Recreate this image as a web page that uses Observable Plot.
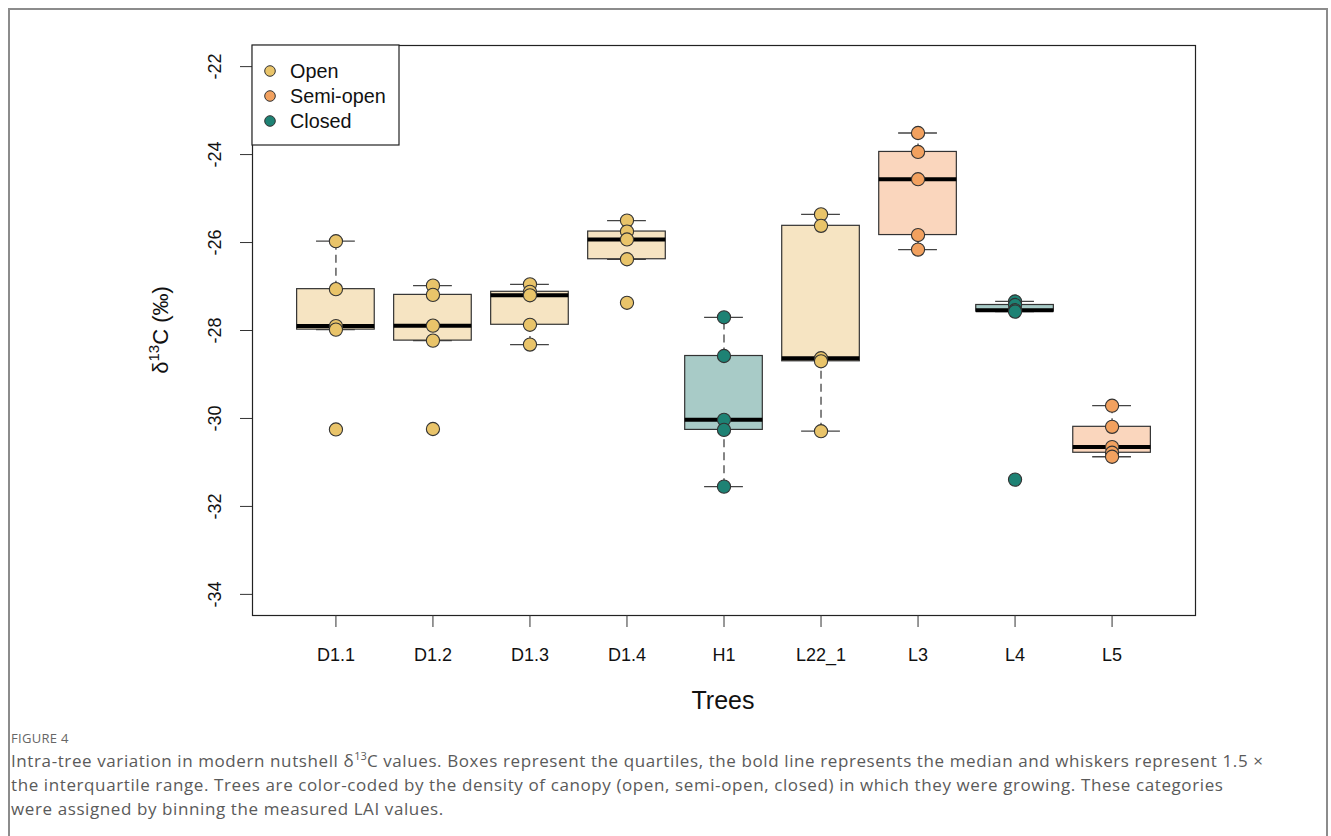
<!DOCTYPE html>
<html>
<head>
<meta charset="utf-8">
<script src="https://cdn.jsdelivr.net/npm/d3@7"></script>
<script src="https://cdn.jsdelivr.net/npm/@observablehq/plot@0.6"></script>
<style>
  html, body { margin: 0; padding: 0; background: #fff; }
  #page { position: relative; width: 1331px; height: 836px; overflow: hidden; }
  #border { position: absolute; left: 8px; top: 8px; width: 1320px; height: 900px; border: 2px solid #8c8c8c; box-sizing: border-box; }
  #chart { position: absolute; left: 0; top: 0; }
  #caption { position: absolute; left: 11px; top: 729px; width: 1310px; font-family: "Open Sans", "Noto Sans", sans-serif; color: #5a5a5a; white-space: nowrap; }
  #caption .fig { font-size: 13px; letter-spacing: 0.3px; margin-bottom: 2px; color: #666; }
  #caption .txt { font-size: 17px; line-height: 24px; font-weight: 400; letter-spacing: 0.6px; }
  sup { font-size: 11px; line-height: 0; letter-spacing: 0; }
</style>
</head>
<body>
<div id="page">
  <div id="border"></div>
  <div id="chart"></div>
  <div id="caption">
    <div class="fig">FIGURE 4</div>
    <div class="txt">Intra-tree variation in modern nutshell δ<sup>13</sup>C values. Boxes represent the quartiles, the bold line represents the median and whiskers represent 1.5 ×<br>the interquartile range. Trees are color-coded by the density of canopy (open, semi-open, closed) in which they were growing. These categories<br>were assigned by binning the measured LAI values.</div>
  </div>
</div>
<script>
// ---- data ----
const trees = ["D1.1", "D1.2", "D1.3", "D1.4", "H1", "L22_1", "L3", "L4", "L5"];
const canopy = ["Open", "Open", "Open", "Open", "Closed", "Open", "Semi-open", "Closed", "Semi-open"];
const d13C = [
  [-25.97, -27.06, -27.90, -27.98, -30.25],
  [-26.98, -27.19, -27.89, -28.23, -30.24],
  [-26.95, -27.12, -27.20, -27.87, -28.32],
  [-25.50, -25.75, -25.93, -26.38, -27.37],
  [-27.70, -28.58, -30.03, -30.26, -31.55],
  [-25.36, -25.62, -28.63, -28.70, -30.29],
  [-23.51, -23.94, -24.56, -25.83, -26.16],
  [-27.34, -27.42, -27.54, -27.57, -31.39],
  [-29.71, -30.19, -30.65, -30.78, -30.87]
];
const yTicks = [-34, -32, -30, -28, -26, -24, -22];
const legendLabels = ["Open", "Semi-open", "Closed"];

// ---- styles ----
const pointColor = {"Open": "#E9C46A", "Semi-open": "#F2A15F", "Closed": "#1E8274"};
const boxColor = {"Open": "#F6E4C2", "Semi-open": "#FAD6BD", "Closed": "#A8CBC7"};

// ---- stats (R boxplot style) ----
const stats = trees.map((t, i) => {
  const v = d13C[i].slice().sort(d3.ascending);
  const q1 = d3.quantile(v, 0.25), med = d3.quantile(v, 0.5), q3 = d3.quantile(v, 0.75);
  const iqr = q3 - q1;
  const inside = v.filter(x => x >= q1 - 1.5 * iqr && x <= q3 + 1.5 * iqr);
  return {tree: t, pos: i + 1, canopy: canopy[i], q1, med, q3, lo: d3.min(inside), hi: d3.max(inside)};
});
const points = trees.flatMap((t, i) => d13C[i].map(v => ({tree: t, pos: i + 1, canopy: canopy[i], v})));

const halfBox = 0.4, halfStaple = 0.2;

const plot = Plot.plot({
  width: 1331,
  height: 730,
  marginLeft: 252,
  marginRight: 136,
  marginTop: 45,
  marginBottom: 115,
  style: {fontFamily: "'Liberation Sans', Arial, sans-serif", color: "#111", background: "transparent"},
  x: {domain: [0.14, 9.86], axis: null},
  y: {domain: [-34.48, -21.52], axis: null},
  marks: [
    // whiskers (dashed)
    Plot.ruleX(stats, {x: "pos", y1: "q3", y2: "hi", stroke: "#444", strokeWidth: 1.3, strokeDasharray: "8,5"}),
    Plot.ruleX(stats, {x: "pos", y1: "lo", y2: "q1", stroke: "#444", strokeWidth: 1.3, strokeDasharray: "8,5"}),
    // staples
    Plot.ruleY(stats, {y: "hi", x1: d => d.pos - halfStaple, x2: d => d.pos + halfStaple, stroke: "#444", strokeWidth: 1.3}),
    Plot.ruleY(stats, {y: "lo", x1: d => d.pos - halfStaple, x2: d => d.pos + halfStaple, stroke: "#444", strokeWidth: 1.3}),
    // boxes
    Plot.rect(stats, {x1: d => d.pos - halfBox, x2: d => d.pos + halfBox, y1: "q1", y2: "q3",
      fill: d => boxColor[d.canopy], stroke: "#333", strokeWidth: 1.2}),
    // medians
    Plot.ruleY(stats, {y: "med", x1: d => d.pos - halfBox, x2: d => d.pos + halfBox, stroke: "#000", strokeWidth: 4}),
    // points
    Plot.dot(points, {x: "pos", y: "v", r: 6.6, fill: d => pointColor[d.canopy], stroke: "#333", strokeWidth: 1.1}),
    Plot.frame({stroke: "#222", strokeWidth: 1.2}),
    // axes
    Plot.axisX(d3.range(1, trees.length + 1), {tickSize: 12, tickPadding: 21, fontSize: 18, stroke: "#333",
      tickFormat: i => trees[i - 1], fill: "#111", label: null}),
    Plot.axisY(yTicks, {tickSize: 12, tickFormat: () => "", stroke: "#333", label: null}),
    Plot.text(yTicks, {y: d => d, frameAnchor: "left", dx: -37, rotate: -90, text: d => String(d),
      fontSize: 18, textAnchor: "middle", lineAnchor: "middle", fill: "#111"})
  ]
});
document.getElementById("chart").appendChild(plot);

// ---- titles and legend ----
const svg = d3.select(plot);
const font = "'Liberation Sans', Arial, sans-serif";
svg.append("text").attr("x", 723).attr("y", 709).attr("text-anchor", "middle")
  .attr("font-family", font).attr("font-size", 25).attr("fill", "#111").text("Trees");

const yl = svg.append("text").attr("transform", "translate(168,330) rotate(-90)")
  .attr("text-anchor", "middle").attr("font-family", font).attr("font-size", 22).attr("fill", "#111");
yl.append("tspan").text("δ");
yl.append("tspan").attr("dy", -9).attr("font-size", 15).text("13");
yl.append("tspan").attr("dy", 9).text("C (‰)");

const lg = svg.append("g");
lg.append("rect").attr("x", 252).attr("y", 45).attr("width", 147).attr("height", 100)
  .attr("fill", "#fff").attr("stroke", "#222").attr("stroke-width", 1.2);
legendLabels.forEach((lab, k) => {
  const cy = 71 + k * 25;
  lg.append("circle").attr("cx", 270).attr("cy", cy).attr("r", 5.3)
    .attr("fill", pointColor[lab]).attr("stroke", "#333").attr("stroke-width", 1);
  lg.append("text").attr("x", 290).attr("y", cy).attr("dy", "0.35em").attr("text-anchor", "start")
    .attr("font-family", font).attr("font-size", 19.8).attr("fill", "#111").text(lab);
});
</script>
</body>
</html>
